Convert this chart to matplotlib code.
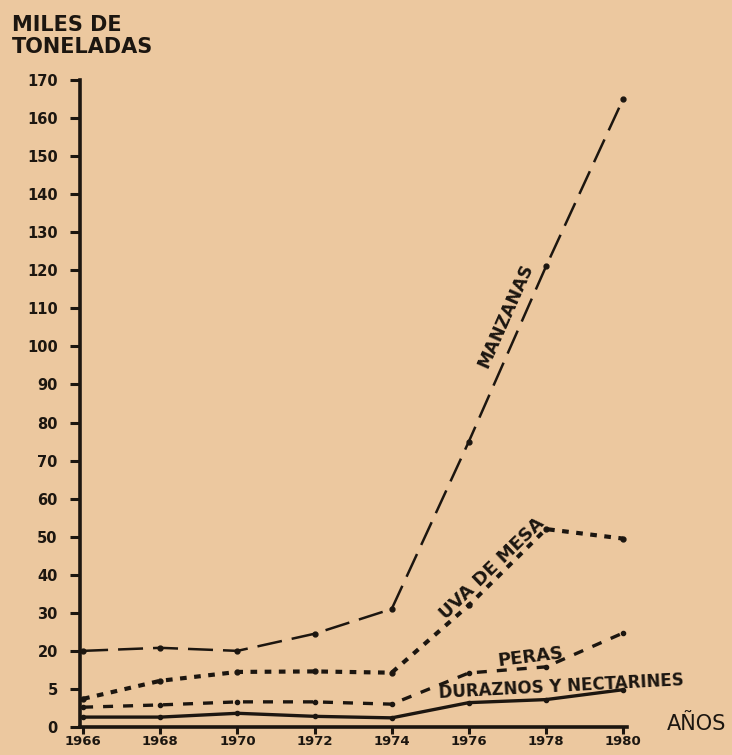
import numpy as np
import matplotlib
matplotlib.use('Agg')
import matplotlib.pyplot as plt

# Datos (miles de toneladas)
anios = [1966, 1968, 1970, 1972, 1974, 1976, 1978, 1980]
manzanas = [20, 20.8, 20, 24.5, 31, 75, 121, 165]
uva_de_mesa = [3.7, 8.2, 11.7, 11.9, 11.4, 32, 52, 49.5]
peras = [2.6, 2.9, 3.3, 3.3, 3.0, 11.3, 13.7, 24.7]
duraznos = [1.3, 1.3, 1.8, 1.4, 1.2, 3.2, 3.6, 4.9]

y_ticks = [0, 5, 20, 30, 40, 50, 60, 70, 80, 90, 100, 110, 120, 130, 140, 150, 160, 170]
y_labels = [str(v) for v in y_ticks]

# Escala no lineal del eje Y (0, 5, 20 equiespaciados y luego cada 10)
VAL_BREAKS = [0, 5, 20, 170]
POS_BREAKS = [0, 1, 2, 17]


def forward(v):
    return np.interp(v, VAL_BREAKS, POS_BREAKS)


def inverse(p):
    return np.interp(p, POS_BREAKS, VAL_BREAKS)


BG = '#ecc89f'
INK = '#1c1610'

fig = plt.figure(figsize=(7.32, 7.55), dpi=100, facecolor=BG)
ax = fig.add_axes([80 / 732, 0.0371, 547 / 732, 0.857])
ax.set_facecolor(BG)
ax.set_yscale('function', functions=(forward, inverse))
ax.set_ylim(0, 170)
ax.set_xlim(1965.92, 1980.1)

ax.plot(anios, manzanas, color=INK, lw=1.8, dashes=(10, 4),
        marker='o', markersize=3.5)
ax.plot(anios, uva_de_mesa, color=INK, lw=3.0, dashes=(1.6, 1.8),
        marker='o', markersize=3.5)
ax.plot(anios, peras, color=INK, lw=2.4, dashes=(3.0, 3.0),
        marker='o', markersize=3)
ax.plot(anios, duraznos, color=INK, lw=2.4, marker='o', markersize=3)

for s in ['top', 'right']:
    ax.spines[s].set_visible(False)
for s in ['left', 'bottom']:
    ax.spines[s].set_linewidth(2.6)
    ax.spines[s].set_color(INK)

ax.set_yticks(y_ticks)
ax.set_yticklabels(y_labels)
ax.minorticks_off()
ax.set_xticks(anios)
ax.set_xticklabels([str(a) for a in anios])
ax.tick_params(axis='both', colors=INK, width=2.2, labelsize=10.5)
ax.tick_params(axis='y', length=7, pad=9)
ax.tick_params(axis='x', length=5, pad=1, labelsize=9.5)
for lab in ax.get_xticklabels() + ax.get_yticklabels():
    lab.set_fontweight('bold')

# Textos manuscritos
fig.text(0.016, 0.925, 'MILES DE\nTONELADAS', fontsize=15, fontweight='bold',
         color=INK, ha='left', va='bottom', linespacing=1.1)
fig.text(0.911, 0.041, 'AÑOS', fontsize=15, color=INK, ha='left', va='center')

ax.text(1976.95, 108, 'MANZANAS', rotation=66, fontsize=12.5, fontweight='bold',
        color=INK, ha='center', va='center')
ax.text(1976.6, 41.5, 'UVA DE MESA', rotation=44, fontsize=13, fontweight='bold',
        color=INK, ha='center', va='center')
ax.text(1977.6, 17.6, 'PERAS', rotation=7, fontsize=13, fontweight='bold',
        color=INK, ha='center', va='center')
ax.text(1978.4, 6.0, 'DURAZNOS Y NECTARINES', rotation=3, fontsize=12,
        fontweight='bold', color=INK, ha='center', va='center')

fig.savefig('out.png', dpi=100, facecolor=BG)
